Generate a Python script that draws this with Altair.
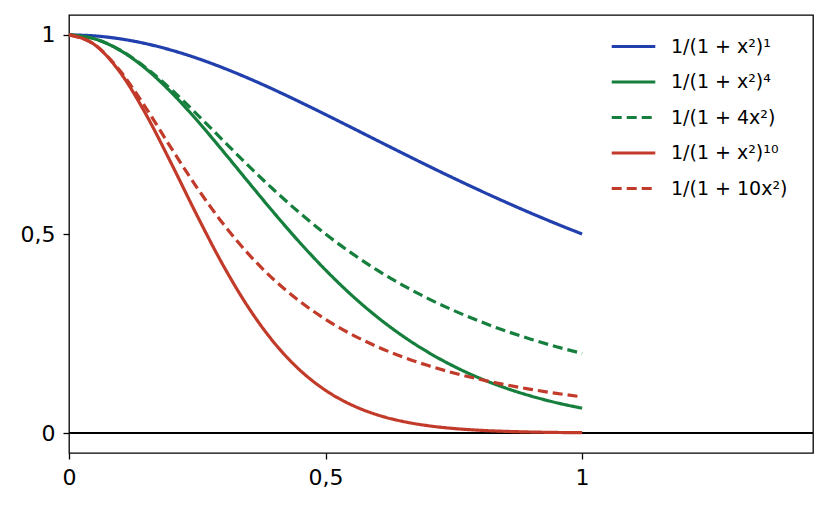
import altair as alt
import pandas as pd

xs = [0, 0.05, 0.1, 0.15, 0.2, 0.25, 0.3, 0.35, 0.4, 0.45, 0.5,
      0.55, 0.6, 0.65, 0.7, 0.75, 0.8, 0.85, 0.9, 0.95, 1.0]

f1 = [1, 0.9975, 0.9901, 0.9780, 0.9615, 0.9412, 0.9174, 0.8909, 0.8621, 0.8316, 0.8,
      0.7678, 0.7353, 0.7030, 0.6711, 0.6400, 0.6098, 0.5806, 0.5525, 0.5256, 0.5]
f4 = [1, 0.9901, 0.9610, 0.9149, 0.8548, 0.7847, 0.7084, 0.6299, 0.5523, 0.4783, 0.4096,
      0.3474, 0.2923, 0.2442, 0.2029, 0.1678, 0.1382, 0.1136, 0.0932, 0.0763, 0.0625]
g4 = [1, 0.9901, 0.9615, 0.9174, 0.8621, 0.8, 0.7353, 0.6711, 0.6098, 0.5525, 0.5,
      0.4525, 0.4098, 0.3717, 0.3378, 0.3077, 0.2809, 0.2571, 0.2358, 0.2169, 0.2]
f10 = [1, 0.9753, 0.9053, 0.8005, 0.6756, 0.5454, 0.4224, 0.3149, 0.2267, 0.1582, 0.1074,
       0.0712, 0.0462, 0.0295, 0.0185, 0.0115, 0.0071, 0.0044, 0.0027, 0.0016, 0.0010]
g10 = [1, 0.9756, 0.9091, 0.8163, 0.7143, 0.6154, 0.5263, 0.4494, 0.3846, 0.3306, 0.2857,
       0.2484, 0.2174, 0.1914, 0.1695, 0.1509, 0.1351, 0.1216, 0.1099, 0.0998, 0.0909]

labels = ["1/(1 + x²)¹", "1/(1 + x²)⁴", "1/(1 + 4x²)", "1/(1 + x²)¹⁰", "1/(1 + 10x²)"]
series = [f1, f4, g4, f10, g10]
colors = ["#2140AD", "#167F3D", "#167F3D", "#C23B2A", "#C23B2A"]
dashes = [[1, 0], [1, 0], [10, 5], [1, 0], [10, 5]]
widths = [3.2, 3.2, 2.2, 3.2, 2.2]

rows = []
for lab, ys in zip(labels, series):
    for x, y in zip(xs, ys):
        rows.append({"x": x, "y": y, "series": lab})
df = pd.DataFrame(rows)

xscale = alt.Scale(domain=[0, 1.45], nice=False, zero=False)
yscale = alt.Scale(domain=[-0.05, 1.05], nice=False, zero=False)

lbl = "datum.value == 0.5 ? '0,5' : (datum.value == 1 ? '1' : '0')"

lines = alt.Chart(df).mark_line(interpolate="monotone").encode(
    x=alt.X("x:Q", scale=xscale, title=None,
            axis=alt.Axis(values=[0, 0.5, 1], labelExpr=lbl, grid=False,
                          labelFlush=False, labelPadding=8)),
    y=alt.Y("y:Q", scale=yscale, title=None,
            axis=alt.Axis(values=[0, 0.5, 1], labelExpr=lbl, grid=False,
                          labelFlush=False, labelPadding=8)),
    color=alt.Color("series:N", sort=labels,
                    scale=alt.Scale(domain=labels, range=colors),
                    legend=alt.Legend(title=None, orient="none", legendX=541, legendY=8,
                                      symbolType="stroke", symbolSize=1900,
                                      labelFontSize=19, labelFont="DejaVu Sans",
                                      rowPadding=1.5, labelOffset=14, padding=0)),
    strokeDash=alt.StrokeDash("series:N", sort=labels,
                              scale=alt.Scale(domain=labels, range=dashes), legend=None),
    strokeWidth=alt.StrokeWidth("series:N", sort=labels,
                                scale=alt.Scale(domain=labels, range=widths), legend=None),
)

zero = alt.Chart(df).mark_rule(color="black", strokeWidth=1.3).encode(y=alt.Y(datum=0))

chart = alt.layer(zero, lines).properties(
    width=744, height=438,
    autosize=alt.AutoSizeParams(type="none"),
    padding={"left": 61, "top": 7, "right": 7, "bottom": 47},
).configure_view(stroke="black", strokeWidth=1.3).configure_axis(
    domain=False, tickColor="black", tickSize=6, tickWidth=1.3,
    labelColor="black", labelFontSize=22, labelFont="DejaVu Sans",
).configure_legend(symbolStrokeWidth=3.2)

chart.save("out.html", embed_options={"renderer": "svg", "actions": False})
